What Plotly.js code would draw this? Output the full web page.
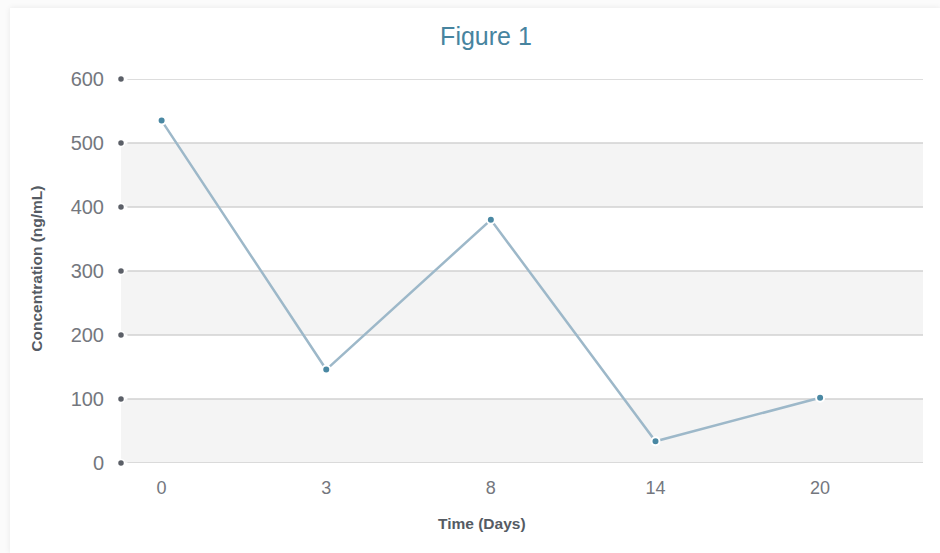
<!DOCTYPE html>
<html>
<head>
<meta charset="utf-8">
<script src="https://cdn.plot.ly/plotly-3.0.1.min.js"></script>
<style>
  html, body { margin: 0; padding: 0; background: #fbfbfb; width: 940px; height: 553px; overflow: hidden; }
  #card { position: absolute; left: 10px; top: 8px; width: 930px; height: 545px; background: #fff;
          box-shadow: 0 0 6px rgba(0,0,0,0.08); }
  #chart { width: 930px; height: 545px; }
</style>
</head>
<body>
<div id="card"><div id="chart"></div></div>
<script>
const days = ['0', '3', '8', '14', '20'];
const concentration = [535, 146, 380, 34, 102];
const yTicks = [0, 100, 200, 300, 400, 500, 600];
const bands = [[0, 100], [200, 300], [400, 500]];

const shapes = [];
bands.forEach(b => shapes.push({
  type: 'rect', xref: 'paper', yref: 'y', x0: 0, x1: 1, y0: b[0], y1: b[1],
  fillcolor: '#f4f4f4', line: { width: 0 }, layer: 'below'
}));
yTicks.forEach(v => shapes.push({
  type: 'line', xref: 'paper', yref: 'y', x0: 0.008, x1: 1, y0: v, y1: v,
  line: { color: '#d2d2d2', width: 1.3 }, layer: 'below'
}));

const trace = {
  x: days, y: concentration, type: 'scatter', mode: 'lines+markers',
  line: { color: '#9db8c9', width: 2.5 },
  marker: { color: '#4a88a3', size: 8, line: { color: '#ffffff', width: 2 } },
  cliponaxis: false, hoverinfo: 'x+y'
};

const tickDots = {
  x: yTicks.map(() => 0), y: yTicks, xaxis: 'x2', yaxis: 'y',
  type: 'scatter', mode: 'markers', cliponaxis: false, hoverinfo: 'skip',
  marker: { color: '#5b5f67', size: 7, line: { color: '#ffffff', width: 1.5 } }
};

const layout = {
  width: 930, height: 545,
  margin: { l: 111, r: 17, t: 71, b: 90 },
  paper_bgcolor: '#ffffff', plot_bgcolor: 'rgba(0,0,0,0)',
  showlegend: false,
  font: { family: 'Liberation Sans, Arial, sans-serif', color: '#74777e' },
  title: {
    text: 'Figure 1', x: 0.5118, xanchor: 'center', y: 0.949, yanchor: 'middle',
    font: { size: 25, color: '#47849f', family: 'Liberation Sans, Arial, sans-serif' }
  },
  xaxis: {
    type: 'category', range: [-0.2467, 4.625], showgrid: false, zeroline: false, showline: false,
    ticks: '', tickfont: { size: 18, color: '#74777e' }, ticklabelstandoff: 12, fixedrange: true
  },
  xaxis2: {
    overlaying: 'x', range: [0, 1], visible: false, fixedrange: true
  },
  yaxis: {
    range: [0, 600], tickvals: yTicks, showgrid: false, zeroline: false, showline: false,
    ticks: '', tickfont: { size: 20, color: '#74777e' }, ticklabelstandoff: 16, fixedrange: true
  },
  shapes: shapes,
  annotations: [
    { text: 'Time (Days)', xref: 'paper', yref: 'paper', x: 0.45, y: 0, yshift: -60,
      xanchor: 'center', yanchor: 'middle', showarrow: false,
      font: { size: 15.5, color: '#555b63', family: 'Liberation Sans, Arial, sans-serif', weight: 'bold' } },
    { text: 'Concentration (ng/mL)', xref: 'paper', yref: 'paper', x: 0, xshift: -84, y: 0.506,
      xanchor: 'center', yanchor: 'middle', textangle: -90, showarrow: false,
      font: { size: 15.5, color: '#555b63', family: 'Liberation Sans, Arial, sans-serif', weight: 'bold' } }
  ]
};

Plotly.newPlot('chart', [trace, tickDots], layout, { displayModeBar: false });
</script>
</body>
</html>
